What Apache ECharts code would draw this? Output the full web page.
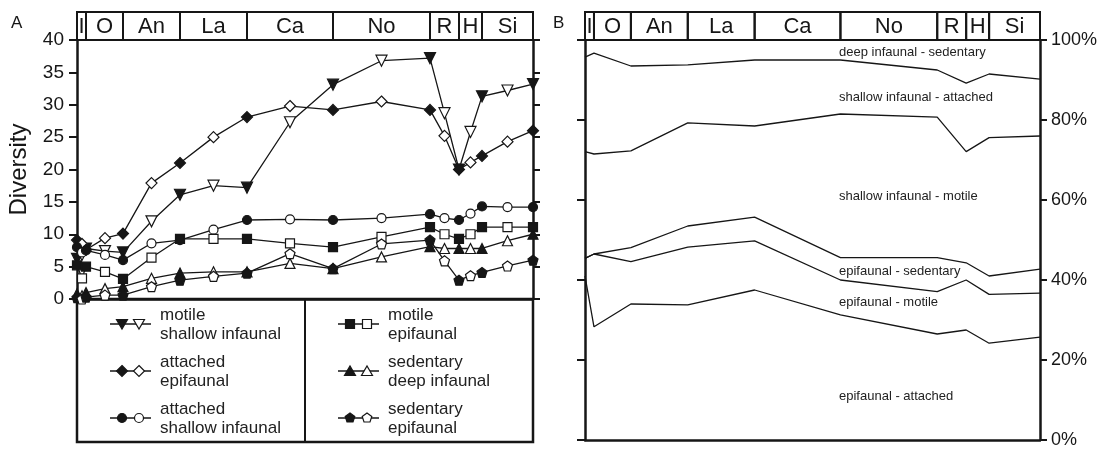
<!DOCTYPE html>
<html>
<head>
<meta charset="utf-8">
<script src="https://cdn.jsdelivr.net/npm/echarts@6/dist/echarts.min.js"></script>
<style>
  html, body { margin: 0; padding: 0; background: #fff; }
  #chart { width: 1104px; height: 450px; }
</style>
</head>
<body>
<div id="chart"></div>
<script>
// stages (header boxes), positions on a common time scale
const stageNames = ['I', 'O', 'An', 'La', 'Ca', 'No', 'R', 'H', 'Si'];
const stageEdges = [0, 9, 46, 103, 170, 256, 353, 382, 405, 456];

// panel A: points sit on stage boundaries (filled) and stage middles (open)
const pointPos = [0, 5, 9, 28, 46, 74.5, 103, 136.5, 170, 213, 256, 304.5, 353, 367.5, 382, 393.5, 405, 430.5, 456];
const motileShallowInf = [6.2, 6.8, 7.8, 7.4, 7.2, 12.0, 16.1, 17.5, 17.2, 27.3, 33.1, 36.8, 37.2, 28.7, 20.0, 25.8, 31.3, 32.2, 33.2];
const attachedEpi = [9.1, 8.5, 7.6, 9.4, 10.1, 17.9, 21.0, 25.0, 28.1, 29.8, 29.2, 30.5, 29.2, 25.2, 20.0, 21.1, 22.1, 24.3, 26.0];
const attachedShallowInf = [8.0, 7.2, 7.5, 6.8, 6.0, 8.6, 9.1, 10.7, 12.2, 12.3, 12.2, 12.5, 13.1, 12.5, 12.2, 13.2, 14.3, 14.2, 14.2];
const motileEpi = [5.2, 3.2, 5.0, 4.2, 3.1, 6.4, 9.3, 9.3, 9.3, 8.6, 8.0, 9.6, 11.1, 10.0, 9.3, 10.0, 11.1, 11.1, 11.1];
const sedentaryDeepInf = [0.8, 0.5, 1.0, 1.6, 1.9, 3.2, 4.0, 4.2, 4.2, 5.5, 4.7, 6.5, 8.1, 7.8, 7.8, 7.8, 7.8, 9.0, 10.0];
const sedentaryEpi = [0.2, 0.0, 0.3, 0.6, 0.6, 1.9, 2.9, 3.5, 4.0, 7.0, 4.7, 8.5, 9.1, 5.9, 2.9, 3.6, 4.1, 5.1, 6.0];

// panel B: proportions (%) at stage boundaries, bottom band first
const bandEpiAttached = [41.0, 28.3, 34.0, 33.8, 37.5, 31.3, 26.5, 27.5, 24.2, 25.7];
const bandEpiMotile = [4.4, 18.2, 10.6, 14.4, 12.3, 8.7, 10.6, 12.5, 12.2, 11.0];
const bandEpiSedentary = [0.0, 0.0, 3.5, 5.3, 5.9, 5.6, 8.5, 4.3, 4.6, 6.0];
const bandShallowMotile = [26.7, 25.0, 24.2, 25.8, 22.8, 35.9, 35.1, 27.8, 34.6, 33.3];
const bandShallowAttached = [23.6, 25.2, 21.2, 14.5, 16.5, 13.5, 11.8, 17.1, 15.9, 14.2];
const bandDeepSedentary = [4.3, 3.3, 6.5, 6.2, 5.0, 5.0, 7.5, 10.8, 8.5, 9.8];
const bandLabels = ['epifaunal - attached', 'epifaunal - motile', 'epifaunal - sedentary',
  'shallow infaunal - motile', 'shallow infaunal - attached', 'deep infaunal - sedentary'];

const yTicksA = [0, 40, 5];
const yTicksB = [0, 100, 20];

const FONT = '"Liberation Sans", Arial, sans-serif';
const INK = '#161616';

const pentagon = 'path://M0,-10L9.5,-3.1L5.9,8.1L-5.9,8.1L-9.5,-3.1Z';
const groupsA = [
  {name: 'motile\nshallow infaunal', data: motileShallowInf, symbol: 'triangle', rotate: 180, size: 11, icon: 'triDown', col: 0, row: 0},
  {name: 'attached\nepifaunal', data: attachedEpi, symbol: 'diamond', rotate: 0, size: 11, icon: 'diamond', col: 0, row: 1},
  {name: 'attached\nshallow infaunal', data: attachedShallowInf, symbol: 'circle', rotate: 0, size: 9, icon: 'circle', col: 0, row: 2},
  {name: 'motile\nepifaunal', data: motileEpi, symbol: 'rect', rotate: 0, size: 9, icon: 'square', col: 1, row: 0},
  {name: 'sedentary\ndeep infaunal', data: sedentaryDeepInf, symbol: 'triangle', rotate: 0, size: 10, icon: 'triUp', col: 1, row: 1},
  {name: 'sedentary\nepifaunal', data: sedentaryEpi, symbol: pentagon, rotate: 0, size: 10, icon: 'pent', col: 1, row: 2}
];

var myChart = echarts.init(document.getElementById('chart'));

let series = [];
groupsA.forEach(function (g) {
  series.push({
    type: 'line',
    name: g.name.replace('\n', ' '),
    xAxisIndex: 0, yAxisIndex: 0,
    symbol: g.symbol, symbolSize: g.size, symbolRotate: g.rotate,
    showAllSymbol: true,
    lineStyle: {color: INK, width: 1.3},
    itemStyle: {borderColor: INK, borderWidth: 1.2},
    emphasis: {disabled: true},
    animation: false,
    data: g.data.map(function (v, i) {
      return {value: [pointPos[i], v], itemStyle: {color: i % 2 === 0 ? INK : '#fff'}};
    })
  });
});

// panel B cumulative boundaries
const bands = [bandEpiAttached, bandEpiMotile, bandEpiSedentary, bandShallowMotile, bandShallowAttached, bandDeepSedentary];
let cum = stageEdges.map(function () { return 0; });
bands.forEach(function (b, k) {
  cum = cum.map(function (c, i) { return c + b[i]; });
  series.push({
    type: 'line',
    name: bandLabels[k],
    xAxisIndex: 2, yAxisIndex: 3,
    symbol: 'none',
    lineStyle: {color: INK, width: 1.3},
    emphasis: {disabled: true},
    animation: false,
    data: cum.map(function (c, i) { return [stageEdges[i], c]; })
  });
});

// stage header boxes
function headerSeries(xi, yi) {
  return {
    type: 'custom',
    xAxisIndex: xi, yAxisIndex: yi,
    animation: false,
    encode: {x: [0, 1]},
    renderItem: function (params, api) {
      const p0 = api.coord([api.value(0), 1]);
      const p1 = api.coord([api.value(1), 0]);
      return {
        type: 'group',
        children: [
          {type: 'rect', shape: {x: p0[0], y: p0[1], width: p1[0] - p0[0], height: p1[1] - p0[1]},
            style: {fill: 'none', stroke: INK, lineWidth: 2}},
          {type: 'text', style: {text: stageNames[params.dataIndex], x: (p0[0] + p1[0]) / 2, y: (p0[1] + p1[1]) / 2 + 1,
            align: 'center', verticalAlign: 'middle', font: '22px ' + FONT, fill: INK}}
        ]
      };
    },
    data: stageNames.map(function (n, i) { return [stageEdges[i], stageEdges[i + 1]]; })
  };
}
series.push(headerSeries(1, 2));
series.push(headerSeries(3, 5));

// legend box for panel A
function iconEl(kind, cx, cy, filled) {
  const style = {fill: filled ? INK : '#fff', stroke: INK, lineWidth: 1.2};
  if (kind === 'circle') return {type: 'circle', shape: {cx: cx, cy: cy, r: 4.5}, style: style};
  if (kind === 'square') return {type: 'rect', shape: {x: cx - 4.5, y: cy - 4.5, width: 9, height: 9}, style: style};
  let pts;
  if (kind === 'triDown') pts = [[cx - 5.5, cy - 4.5], [cx + 5.5, cy - 4.5], [cx, cy + 5]];
  if (kind === 'triUp') pts = [[cx - 5.5, cy + 4.5], [cx + 5.5, cy + 4.5], [cx, cy - 5]];
  if (kind === 'diamond') pts = [[cx, cy - 5.5], [cx + 5.5, cy], [cx, cy + 5.5], [cx - 5.5, cy]];
  if (kind === 'pent') pts = [[cx, cy - 5], [cx + 4.8, cy - 1.5], [cx + 3, cy + 4], [cx - 3, cy + 4], [cx - 4.8, cy - 1.5]];
  return {type: 'polygon', shape: {points: pts}, style: style};
}

let graphic = [
  {type: 'text', left: 11, top: 15, style: {text: 'A', font: '17px ' + FONT, fill: INK}},
  {type: 'text', left: 553, top: 15, style: {text: 'B', font: '17px ' + FONT, fill: INK}},
  {type: 'rect', shape: {x: 77, y: 299, width: 456, height: 143}, style: {fill: 'none', stroke: INK, lineWidth: 2.5}},
  {type: 'line', shape: {x1: 305, y1: 299, x2: 305, y2: 442}, style: {stroke: INK, lineWidth: 2}}
];
const legendColX = [110, 338];
const legendRowY = [324, 371, 418];
groupsA.forEach(function (g) {
  const x0 = legendColX[g.col], y0 = legendRowY[g.row];
  graphic.push({type: 'line', shape: {x1: x0, y1: y0, x2: x0 + 41, y2: y0}, style: {stroke: INK, lineWidth: 1.3}});
  graphic.push(iconEl(g.icon, x0 + 12, y0, true));
  graphic.push(iconEl(g.icon, x0 + 29, y0, false));
  graphic.push({type: 'text', x: x0 + 50, y: y0 + 1, style: {text: g.name, font: '17px ' + FONT, fill: '#222',
    lineHeight: 19, verticalAlign: 'middle'}});
});
// band labels for panel B
const bandLabelY = [396, 302, 271, 196, 97, 52];
bandLabels.forEach(function (t, k) {
  graphic.push({type: 'text', x: 839, y: bandLabelY[k], style: {text: t, font: '13px ' + FONT, fill: '#222', verticalAlign: 'middle'}});
});

function hiddenX(grid) {
  return {type: 'value', gridIndex: grid, min: 0, max: 456, show: false};
}

let option = {
  backgroundColor: '#fff',
  animation: false,
  grid: [
    {left: 77, top: 40, width: 456, height: 259},
    {left: 77, top: 12, width: 456, height: 28},
    {left: 585, top: 40, width: 455, height: 400},
    {left: 585, top: 12, width: 455, height: 28}
  ],
  xAxis: [
    {type: 'value', gridIndex: 0, min: 0, max: 456, axisLine: {lineStyle: {color: INK, width: 2.5}},
      axisTick: {show: false}, axisLabel: {show: false}, splitLine: {show: false}},
    hiddenX(1),
    {type: 'value', gridIndex: 2, min: 0, max: 456, axisLine: {lineStyle: {color: INK, width: 2.5}},
      axisTick: {show: false}, axisLabel: {show: false}, splitLine: {show: false}},
    hiddenX(3)
  ],
  yAxis: [
    {type: 'value', gridIndex: 0, position: 'left', min: yTicksA[0], max: yTicksA[1], interval: yTicksA[2],
      name: 'Diversity', nameLocation: 'middle', nameGap: 46, nameTextStyle: {fontFamily: FONT, fontSize: 24, color: INK},
      axisLine: {show: true, lineStyle: {color: INK, width: 2.5}},
      axisTick: {show: true, length: 8, lineStyle: {color: INK, width: 2}},
      axisLabel: {fontFamily: FONT, fontSize: 19, color: INK, margin: 13},
      splitLine: {show: false}},
    {type: 'value', gridIndex: 0, position: 'right', min: yTicksA[0], max: yTicksA[1], interval: yTicksA[2],
      axisLine: {show: true, lineStyle: {color: INK, width: 2.5}},
      axisTick: {show: true, length: 7, lineStyle: {color: INK, width: 2}},
      axisLabel: {show: false}, splitLine: {show: false}},
    {type: 'value', gridIndex: 1, min: 0, max: 1, show: false},
    {type: 'value', gridIndex: 2, position: 'left', min: yTicksB[0], max: yTicksB[1], interval: yTicksB[2],
      axisLine: {show: true, lineStyle: {color: INK, width: 2.5}},
      axisTick: {show: true, length: 8, lineStyle: {color: INK, width: 2}},
      axisLabel: {show: false}, splitLine: {show: false}},
    {type: 'value', gridIndex: 2, position: 'right', min: yTicksB[0], max: yTicksB[1], interval: yTicksB[2],
      axisLine: {show: true, lineStyle: {color: INK, width: 2.5}},
      axisTick: {show: true, length: 7, lineStyle: {color: INK, width: 2}},
      axisLabel: {fontFamily: FONT, fontSize: 18, color: INK, margin: 11, formatter: '{value}%'},
      splitLine: {show: false}},
    {type: 'value', gridIndex: 3, min: 0, max: 1, show: false}
  ],
  graphic: graphic,
  series: series
};
myChart.setOption(option);
</script>
</body>
</html>
